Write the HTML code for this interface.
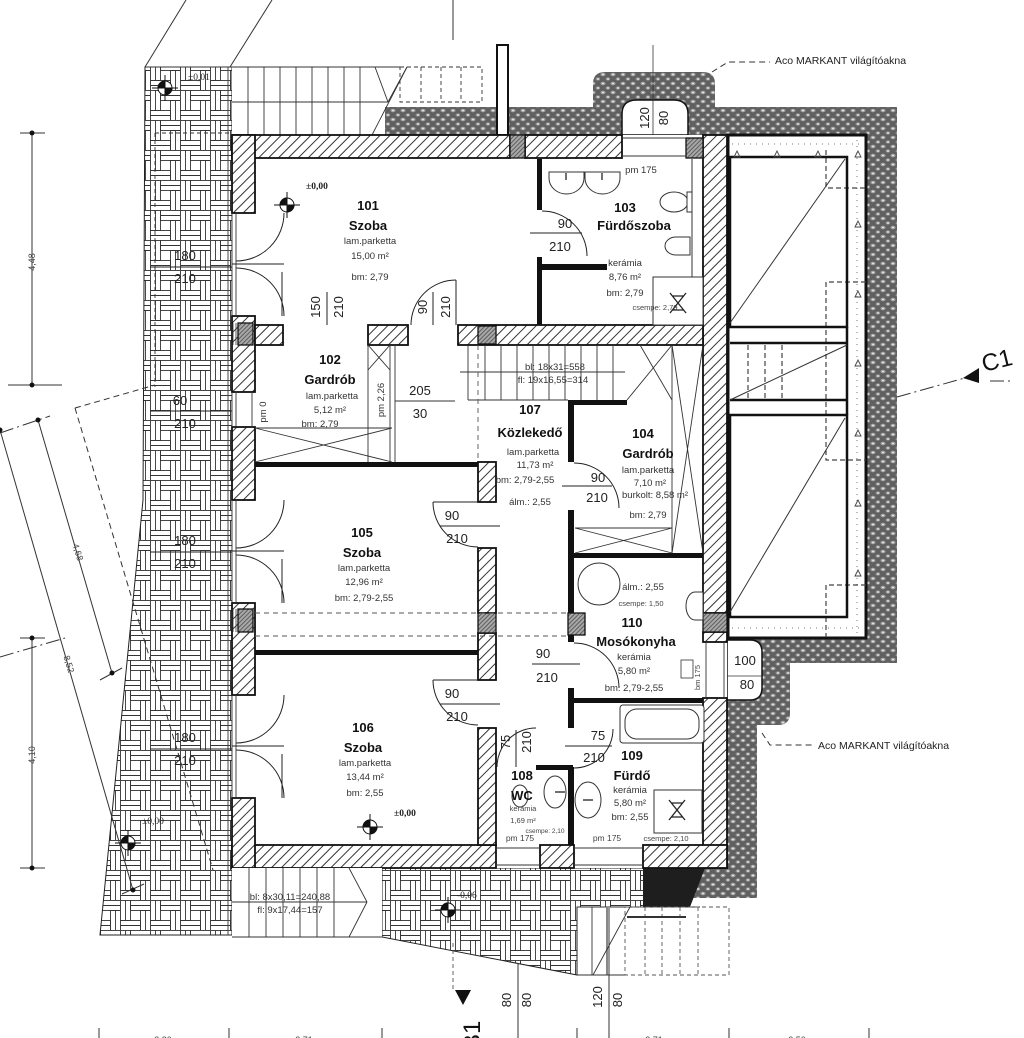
<!DOCTYPE html>
<html><head><meta charset="utf-8">
<style>
html,body{margin:0;padding:0;background:#fff;}
svg{display:block;}
text{font-family:"Liberation Sans",Arial,sans-serif;fill:#111;}
.b{font-weight:bold;font-size:13px;}
.s{font-size:9.5px;fill:#333;}
.xs{font-size:7.5px;fill:#444;}
.d{font-size:13px;fill:#222;}
.sr{font-family:"Liberation Serif",serif;font-size:9.5px;fill:#222;}
</style></head><body>
<svg width="1024" height="1038" viewBox="0 0 1024 1038" xmlns="http://www.w3.org/2000/svg">
<defs>
<pattern id="h" width="7" height="7" patternUnits="userSpaceOnUse" patternTransform="rotate(45)">
 <rect width="7" height="7" fill="#fff"/>
 <line x1="0.5" y1="0" x2="0.5" y2="7" stroke="#333" stroke-width="1"/>
</pattern>
<pattern id="g" width="3" height="3" patternUnits="userSpaceOnUse" patternTransform="rotate(45)">
 <rect width="3" height="3" fill="#a8a8a8"/>
 <line x1="0.5" y1="0" x2="0.5" y2="3" stroke="#555" stroke-width="0.9"/>
</pattern>
<pattern id="gr" width="10" height="9" patternUnits="userSpaceOnUse">
 <rect width="10" height="9" fill="#606060"/>
 <ellipse cx="3" cy="2.5" rx="2.6" ry="1.7" fill="#a0a0a0"/>
 <ellipse cx="8" cy="7" rx="2.4" ry="1.6" fill="#959595"/>
 <circle cx="3" cy="2.5" r="0.9" fill="#f2f2f2"/>
 <circle cx="8" cy="7" r="0.9" fill="#f2f2f2"/>
</pattern>
<pattern id="pv" width="30" height="30" patternUnits="userSpaceOnUse">
 <rect width="30" height="30" fill="#fff"/>
 <g stroke="#333" stroke-width="0.9" fill="none">
  <rect x="0.5" y="0.5" width="10" height="20"/><line x1="5.5" y1="0.5" x2="5.5" y2="20.5"/>
  <rect x="10.5" y="0.5" width="20" height="10"/><line x1="10.5" y1="5.5" x2="30.5" y2="5.5"/>
  <rect x="20.5" y="10.5" width="10" height="20"/><line x1="25.5" y1="10.5" x2="25.5" y2="30.5"/>
  <rect x="0.5" y="20.5" width="20" height="10"/><line x1="0.5" y1="25.5" x2="20.5" y2="25.5"/>
 </g>
</pattern>
</defs>

<rect width="1024" height="1038" fill="#fff"/>

<!-- roof lines top-left -->
<g stroke="#333" stroke-width="1" fill="none">
 <line x1="145" y1="67" x2="186" y2="0"/>
 <line x1="230" y1="67" x2="272" y2="0"/>
 <line x1="453" y1="0" x2="453" y2="40"/>
</g>

<!-- paving left -->
<path d="M145,67 L232,67 L232,935 L100,935 L143,500 Z" fill="url(#pv)" stroke="#222" stroke-width="1"/>
<line x1="228" y1="67" x2="228" y2="935" stroke="#444" stroke-width="1"/>
<!-- paving bottom -->
<path d="M382,868 L645,868 L645,907 L577,907 L577,975 L382,937 Z" fill="url(#pv)" stroke="#222" stroke-width="1"/>

<!-- gravel -->
<path d="M370,135 L385,107 L593,107 L593,84 Q593,72 605,72 L703,72 Q715,72 715,84 L715,107 L897,107 L897,663 L790,663 L790,713 Q790,725 778,725 L757,725 L757,898 L697,898 L645,898 L645,868 L727,868 L727,135 Z" fill="url(#gr)"/>
<path d="M643,868 L705,868 L690,907 L643,907 Z" fill="#1e1e1e"/>

<!-- top-left stairs -->
<rect x="232" y="67" width="153" height="68" fill="#fff"/>
<g stroke="#333" stroke-width="0.9" fill="none">
 <line x1="145" y1="67" x2="400" y2="67"/>
 <line x1="232" y1="102" x2="388" y2="102"/>
 <line x1="248" y1="67" x2="248" y2="135"/><line x1="264" y1="67" x2="264" y2="135"/>
 <line x1="280" y1="67" x2="280" y2="135"/><line x1="296" y1="67" x2="296" y2="135"/>
 <line x1="312" y1="67" x2="312" y2="135"/><line x1="328" y1="67" x2="328" y2="135"/>
 <line x1="344" y1="67" x2="344" y2="135"/><line x1="360" y1="67" x2="360" y2="135"/>
 <line x1="375" y1="67" x2="388" y2="102"/><line x1="388" y1="102" x2="407" y2="67"/>
 <line x1="372" y1="135" x2="407" y2="67"/>
 <g stroke-dasharray="4,3">
  <rect x="400" y="67" width="82" height="35"/>
  <line x1="421" y1="67" x2="421" y2="102"/><line x1="441" y1="67" x2="441" y2="102"/><line x1="461" y1="67" x2="461" y2="102"/>
  <line x1="155" y1="133" x2="232" y2="133"/><line x1="155" y1="133" x2="155" y2="387"/>
 </g>
</g>
<!-- pole -->
<rect x="497" y="45" width="11" height="90" fill="#fff" stroke="#111" stroke-width="2"/>

<!-- top window bump -->
<path d="M622,135 L622,114 Q622,100 637,100 L674,100 Q688,100 688,114 L688,135 Z" fill="#fff" stroke="#111" stroke-width="1.5"/>
<line x1="653" y1="45" x2="653" y2="172" stroke="#333" stroke-width="0.8"/>
<text class="d" transform="translate(649,118) rotate(-90)" text-anchor="middle">120</text>
<text class="d" transform="translate(668,118) rotate(-90)" text-anchor="middle">80</text>

<!-- lightwell -->
<rect x="728" y="135" width="138" height="503" fill="#fff" stroke="#111" stroke-width="3"/>
<g stroke="#777" stroke-width="1" stroke-dasharray="1,5" fill="none">
 <line x1="857" y1="140" x2="857" y2="635"/>
 <line x1="732" y1="144" x2="862" y2="144"/>
 <line x1="732" y1="628" x2="862" y2="628"/>
</g>
<g stroke="#444" stroke-width="1.2" stroke-dasharray="5,3" fill="none">
 <polyline points="826,150 826,188 866,188"/>
 <polyline points="866,282 826,282 826,460 866,460"/>
 <polyline points="866,585 826,585 826,637"/>
 <line x1="748" y1="345" x2="748" y2="400"/><line x1="765" y1="345" x2="765" y2="400"/><line x1="782" y1="345" x2="782" y2="400"/>
</g>
<g stroke="#111" stroke-width="2.5" fill="none">
 <rect x="730" y="157" width="117" height="170"/>
 <line x1="730" y1="343" x2="847" y2="343"/>
 <line x1="730" y1="400" x2="847" y2="400"/>
 <rect x="730" y="415" width="117" height="202"/>
 <line x1="847" y1="327" x2="847" y2="415"/>
</g>
<g stroke="#333" stroke-width="1" fill="none">
 <line x1="730" y1="323" x2="845" y2="159"/>
 <line x1="730" y1="400" x2="847" y2="345"/>
 <line x1="730" y1="612" x2="845" y2="418"/>
</g>
<g fill="none" stroke="#444" stroke-width="0.9">
 <path d="M734,157 l3,-6 l3,6 z"/><path d="M774,157 l3,-6 l3,6 z"/><path d="M815,157 l3,-6 l3,6 z"/>
 <path d="M855,157 l3,-6 l3,6 z"/><path d="M855,227 l3,-6 l3,6 z"/><path d="M855,297 l3,-6 l3,6 z"/>
 <path d="M855,366 l3,-6 l3,6 z"/><path d="M855,436 l3,-6 l3,6 z"/><path d="M855,506 l3,-6 l3,6 z"/>
 <path d="M855,576 l3,-6 l3,6 z"/>
</g>

<!-- 100/80 box -->
<path d="M727,640 L750,640 Q762,640 762,652 L762,688 Q762,700 750,700 L727,700 Z" fill="#fff" stroke="#111" stroke-width="1.5"/>
<line x1="727" y1="676" x2="762" y2="676" stroke="#333" stroke-width="0.8"/>
<text class="d" x="745" y="665" text-anchor="middle">100</text>
<text class="d" x="747" y="689" text-anchor="middle">80</text>

<!-- building interior -->
<rect x="232" y="135" width="495" height="733" fill="#fff"/>

<!-- outer walls -->
<g fill="url(#h)" stroke="#111" stroke-width="1.8">
 <rect x="232" y="135" width="278" height="23"/>
 <rect x="525" y="135" width="97" height="23"/>
 <rect x="703" y="135" width="24" height="478"/>
 <rect x="703" y="632" width="24" height="10"/>
 <rect x="703" y="698" width="24" height="170"/>
 <rect x="232" y="845" width="264" height="23"/>
 <rect x="540" y="845" width="34" height="23"/>
 <rect x="643" y="845" width="84" height="23"/>
 <rect x="232" y="135" width="23" height="78"/>
 <rect x="232" y="316" width="23" height="76"/>
 <rect x="232" y="427" width="23" height="73"/>
 <rect x="232" y="603" width="23" height="92"/>
 <rect x="232" y="798" width="23" height="70"/>
 <rect x="255" y="325" width="28" height="20"/>
 <rect x="368" y="325" width="40" height="20"/>
 <rect x="458" y="325" width="245" height="20"/>
 <rect x="478" y="462" width="18" height="40"/>
 <rect x="478" y="548" width="18" height="65"/>
 <rect x="478" y="633" width="18" height="47"/>
 <rect x="478" y="728" width="18" height="117"/>
</g>
<!-- gray columns -->
<g fill="url(#g)" stroke="#111" stroke-width="1.3">
 <rect x="510" y="135" width="15" height="23"/>
 <rect x="686" y="138" width="17" height="20"/>
 <rect x="703" y="613" width="24" height="19"/>
 <rect x="238" y="323" width="15" height="22"/>
 <rect x="238" y="609" width="15" height="23"/>
 <rect x="478" y="326" width="18" height="18"/>
 <rect x="478" y="613" width="18" height="20"/>
 <rect x="568" y="613" width="17" height="22"/>
</g>
<g stroke="#333" stroke-width="0.8" fill="none">
 <line x1="233" y1="323" x2="233" y2="345"/><line x1="236" y1="323" x2="236" y2="345"/>
 <line x1="233" y1="609" x2="233" y2="632"/><line x1="236" y1="609" x2="236" y2="632"/>
</g>

<!-- window / opening frames -->
<g stroke="#333" stroke-width="0.9" fill="none">
 <line x1="622" y1="138" x2="686" y2="138"/><line x1="622" y1="156" x2="686" y2="156"/>
 <line x1="232" y1="213" x2="232" y2="316"/><line x1="236" y1="213" x2="236" y2="316"/>
 <line x1="232" y1="392" x2="232" y2="427"/><line x1="236" y1="392" x2="236" y2="427"/><line x1="252" y1="392" x2="252" y2="427"/>
 <line x1="232" y1="500" x2="232" y2="603"/><line x1="236" y1="500" x2="236" y2="603"/>
 <line x1="232" y1="695" x2="232" y2="798"/><line x1="236" y1="695" x2="236" y2="798"/>
 <line x1="496" y1="848" x2="540" y2="848"/><line x1="496" y1="865" x2="540" y2="865"/>
 <line x1="574" y1="848" x2="643" y2="848"/><line x1="574" y1="865" x2="643" y2="865"/>
 <line x1="706" y1="642" x2="706" y2="698"/><line x1="724" y1="642" x2="724" y2="698"/>
</g>

<!-- black partition walls -->
<g fill="#111">
 <rect x="537" y="159" width="5" height="51"/>
 <rect x="537" y="257" width="5" height="68"/>
 <rect x="540" y="264" width="67" height="6"/>
 <rect x="255" y="462" width="223" height="5"/>
 <rect x="568" y="400" width="6" height="62"/>
 <rect x="568" y="400" width="59" height="5"/>
 <rect x="568" y="510" width="6" height="103"/>
 <rect x="572" y="553" width="131" height="5"/>
 <rect x="568" y="635" width="6" height="7"/>
 <rect x="568" y="688" width="6" height="40"/>
 <rect x="572" y="698" width="131" height="5"/>
 <rect x="536" y="765" width="37" height="5"/>
 <rect x="568" y="767" width="6" height="78"/>
 <rect x="255" y="650" width="223" height="5"/>
</g>

<!-- double doors left -->
<g stroke="#222" stroke-width="1" fill="none">
 <path d="M284,213 A48,48 0 0 1 236,261"/><line x1="232" y1="264" x2="284" y2="264"/><path d="M236,268 A48,48 0 0 1 284,316"/><line x1="282" y1="272" x2="282" y2="316"/>
 <path d="M284,500 A48,48 0 0 1 236,548"/><line x1="232" y1="551" x2="284" y2="551"/><path d="M236,555 A48,48 0 0 1 284,603"/><line x1="282" y1="559" x2="282" y2="603"/>
 <path d="M284,695 A48,48 0 0 1 236,743"/><line x1="232" y1="746" x2="284" y2="746"/><path d="M236,750 A48,48 0 0 1 284,798"/><line x1="282" y1="754" x2="282" y2="798"/>
 <line x1="150" y1="267" x2="232" y2="267"/>
 <line x1="150" y1="411" x2="232" y2="411"/>
 <line x1="150" y1="552" x2="232" y2="552"/>
 <line x1="150" y1="749" x2="232" y2="749"/>
</g>

<!-- single doors -->
<g stroke="#222" stroke-width="1" fill="none">
 <line x1="456" y1="325" x2="456" y2="280"/><path d="M456,280 A45,45 0 0 0 411,325"/>
 <line x1="327" y1="292" x2="327" y2="325"/><line x1="433" y1="292" x2="433" y2="325"/>
 <path d="M542,211 A45,45 0 0 1 587,256"/><line x1="530" y1="233" x2="582" y2="233"/>
 <line x1="478" y1="502" x2="433" y2="502"/><path d="M433,502 A45,45 0 0 0 478,547"/><line x1="440" y1="526" x2="500" y2="526"/>
 <line x1="478" y1="680" x2="433" y2="680"/><path d="M433,680 A45,45 0 0 0 478,725"/><line x1="440" y1="704" x2="500" y2="704"/>
 <path d="M574,463 A45,45 0 0 1 619,508"/><line x1="562" y1="486" x2="612" y2="486"/>
 <path d="M574,643 A45,45 0 0 1 619,688"/><line x1="532" y1="664" x2="580" y2="664"/>
 <path d="M613,729 A39,39 0 0 1 574,768"/><line x1="565" y1="746" x2="612" y2="746"/>
 <path d="M497,767 A39,39 0 0 1 536,728"/><line x1="516" y1="730" x2="516" y2="767"/>
</g>

<!-- closets / stairs 107 -->
<g stroke="#333" stroke-width="0.9" fill="none">
 <line x1="255" y1="428" x2="392" y2="428"/>
 <line x1="255" y1="428" x2="392" y2="462"/><line x1="255" y1="462" x2="392" y2="428"/>
 <line x1="368" y1="345" x2="368" y2="462"/><line x1="390" y1="345" x2="390" y2="462"/><line x1="395" y1="345" x2="395" y2="462"/>
 <line x1="368" y1="345" x2="390" y2="370"/><line x1="390" y1="345" x2="368" y2="370"/>
 <line x1="395" y1="401" x2="455" y2="401"/>
 <line x1="468" y1="345" x2="468" y2="400"/><line x1="468" y1="400" x2="568" y2="400"/>
 <line x1="485" y1="345" x2="485" y2="400"/><line x1="501" y1="345" x2="501" y2="400"/>
 <line x1="517" y1="345" x2="517" y2="400"/><line x1="533" y1="345" x2="533" y2="400"/>
 <line x1="549" y1="345" x2="549" y2="400"/><line x1="565" y1="345" x2="565" y2="400"/>
 <line x1="581" y1="345" x2="581" y2="400"/><line x1="597" y1="345" x2="597" y2="400"/>
 <line x1="613" y1="345" x2="613" y2="400"/><line x1="460" y1="372" x2="625" y2="372"/>
 <line x1="627" y1="400" x2="672" y2="345"/><line x1="640" y1="345" x2="672" y2="400"/>
 <line x1="672" y1="345" x2="672" y2="553"/>
 <line x1="672" y1="345" x2="703" y2="553"/><line x1="703" y1="345" x2="672" y2="553"/>
 <line x1="575" y1="528" x2="672" y2="528"/>
 <line x1="575" y1="528" x2="672" y2="553"/><line x1="575" y1="553" x2="672" y2="528"/>
 <g stroke-dasharray="5,4" stroke="#555">
  <line x1="478" y1="345" x2="478" y2="462"/>
  <line x1="255" y1="613" x2="568" y2="613"/>
  <line x1="255" y1="636" x2="568" y2="636"/>
 </g>
</g>

<!-- fixtures -->
<g stroke="#333" stroke-width="1" fill="#fff">
 <path d="M549,172 L584,172 L584,178 A17.5,16 0 0 1 549,178 Z"/>
 <path d="M585,172 L620,172 L620,178 A17.5,16 0 0 1 585,178 Z"/>
 <ellipse cx="674" cy="202" rx="14" ry="10"/><rect x="687" y="192" width="5" height="20"/>
 <path d="M690,237 L676,237 A11,9 0 0 0 676,255 L690,255 Z"/>
 <line x1="692" y1="159" x2="692" y2="277" fill="none"/>
 <rect x="653" y="277" width="50" height="48"/>
 <circle cx="599" cy="584" r="21"/>
 <path d="M703,592 L695,592 A9,14 0 0 0 695,620 L703,620 Z"/>
 <rect x="620" y="705" width="84" height="38" rx="3"/>
 <rect x="625" y="709" width="74" height="30" rx="12"/>
 <rect x="654" y="790" width="48" height="43"/>
 <ellipse cx="555" cy="792" rx="11" ry="16"/>
 <ellipse cx="588" cy="800" rx="13" ry="18"/>
 <ellipse cx="520" cy="796" rx="8" ry="11"/>
</g>
<g stroke="#222" stroke-width="1.3" fill="none">
 <path d="M670,293 L686,313 M686,293 L670,313 M672,296 h12 M672,310 h12"/>
 <path d="M669,800 L685,820 M685,800 L669,820 M671,803 h12 M671,817 h12"/>
 <line x1="566" y1="173" x2="566" y2="180"/><line x1="602" y1="173" x2="602" y2="180"/>
 <line x1="555" y1="792" x2="565" y2="792"/><line x1="583" y1="800" x2="593" y2="800"/>
</g>
<rect x="681" y="660" width="12" height="18" fill="#fff" stroke="#333" stroke-width="0.8"/>
<text class="xs" transform="translate(700,690) rotate(-90)">bm 175</text>

<!-- level symbols -->
<g stroke="#111" stroke-width="1">
 <g transform="translate(165,88)"><circle r="7" fill="#fff"/><path d="M0,0 L-7,0 A7,7 0 0 1 0,-7 Z M0,0 L7,0 A7,7 0 0 1 0,7 Z" fill="#111"/><line x1="-13" y1="0" x2="13" y2="0"/><line x1="0" y1="-13" x2="0" y2="13"/></g>
 <g transform="translate(287,205)"><circle r="7" fill="#fff"/><path d="M0,0 L-7,0 A7,7 0 0 1 0,-7 Z M0,0 L7,0 A7,7 0 0 1 0,7 Z" fill="#111"/><line x1="-13" y1="0" x2="13" y2="0"/><line x1="0" y1="-13" x2="0" y2="13"/></g>
 <g transform="translate(370,827)"><circle r="7" fill="#fff"/><path d="M0,0 L-7,0 A7,7 0 0 1 0,-7 Z M0,0 L7,0 A7,7 0 0 1 0,7 Z" fill="#111"/><line x1="-13" y1="0" x2="13" y2="0"/><line x1="0" y1="-13" x2="0" y2="13"/></g>
 <g transform="translate(128,843)"><circle r="7" fill="#fff"/><path d="M0,0 L-7,0 A7,7 0 0 1 0,-7 Z M0,0 L7,0 A7,7 0 0 1 0,7 Z" fill="#111"/><line x1="-13" y1="0" x2="13" y2="0"/><line x1="0" y1="-13" x2="0" y2="13"/></g>
 <g transform="translate(448,910)"><circle r="7" fill="#fff"/><path d="M0,0 L-7,0 A7,7 0 0 1 0,-7 Z M0,0 L7,0 A7,7 0 0 1 0,7 Z" fill="#111"/><line x1="-13" y1="0" x2="13" y2="0"/><line x1="0" y1="-13" x2="0" y2="13"/></g>
</g>

<!-- bottom stairs -->
<rect x="232" y="868" width="150" height="69" fill="#fff"/>
<g stroke="#333" stroke-width="0.9" fill="none">
 <line x1="232" y1="937" x2="382" y2="937"/>
 <line x1="249" y1="868" x2="249" y2="937"/><line x1="266" y1="868" x2="266" y2="937"/>
 <line x1="283" y1="868" x2="283" y2="937"/><line x1="300" y1="868" x2="300" y2="937"/>
 <line x1="317" y1="868" x2="317" y2="937"/><line x1="334" y1="868" x2="334" y2="937"/>
 <line x1="349" y1="868" x2="367" y2="902"/><line x1="367" y1="902" x2="349" y2="937"/>
 <line x1="232" y1="902" x2="367" y2="902"/>
 <line x1="577" y1="907" x2="700" y2="907"/>
 <line x1="592" y1="907" x2="592" y2="975"/><line x1="607" y1="907" x2="607" y2="975" stroke="#888" stroke-width="2"/>
 <line x1="593" y1="975" x2="630" y2="907"/>
 <line x1="577" y1="975" x2="625" y2="975"/>
 <g stroke-dasharray="4,3" stroke="#555">
  <rect x="625" y="907" width="104" height="68"/>
  <line x1="645" y1="907" x2="645" y2="975"/><line x1="662" y1="907" x2="662" y2="975"/>
  <line x1="680" y1="907" x2="680" y2="975"/><line x1="698" y1="907" x2="698" y2="975"/>
  <line x1="453" y1="943" x2="453" y2="990"/>
 </g>
 <line x1="627" y1="917" x2="686" y2="917" stroke-width="2"/>
</g>

<!-- dimension / section lines -->
<g stroke="#333" stroke-width="1" fill="none">
 <line x1="32" y1="133" x2="32" y2="387"/><line x1="20" y1="133" x2="45" y2="133"/><line x1="8" y1="385" x2="62" y2="385"/>
 <line x1="32" y1="638" x2="32" y2="868"/><line x1="20" y1="638" x2="45" y2="638"/><line x1="20" y1="868" x2="45" y2="868"/>
 <line x1="38" y1="420" x2="112" y2="673"/>
 <line x1="0" y1="430" x2="133" y2="890"/>
 <line x1="100" y1="680" x2="122" y2="668"/><line x1="122" y1="894" x2="144" y2="884"/>
 <line x1="518" y1="963" x2="518" y2="1038"/><line x1="609" y1="908" x2="609" y2="1038"/>
 <line x1="99" y1="1028" x2="99" y2="1038"/><line x1="229" y1="1028" x2="229" y2="1038"/>
 <line x1="382" y1="1028" x2="382" y2="1038"/><line x1="577" y1="1028" x2="577" y2="1038"/>
 <line x1="729" y1="1028" x2="729" y2="1038"/><line x1="869" y1="1028" x2="869" y2="1038"/>
 <g stroke-dasharray="6,4">
  <line x1="75" y1="408" x2="155" y2="385"/>
  <line x1="75" y1="408" x2="213" y2="870"/>
  <polyline points="712,72 728,62 770,62"/>
  <polyline points="762,733 770,745 815,745"/>
 </g>
 <g stroke-dasharray="14,4,2,4">
  <line x1="0" y1="657" x2="65" y2="638"/>
  <line x1="0" y1="433" x2="50" y2="416"/>
  <line x1="897" y1="397" x2="972" y2="376"/>
  <line x1="990" y1="381" x2="1010" y2="381"/>
 </g>
</g>
<g fill="#111">
 <circle cx="32" cy="133" r="2.5"/><circle cx="32" cy="385" r="2.5"/>
 <circle cx="32" cy="638" r="2.5"/><circle cx="32" cy="868" r="2.5"/>
 <circle cx="38" cy="420" r="2.5"/><circle cx="112" cy="673" r="2.5"/>
 <circle cx="0" cy="430" r="2.5"/><circle cx="133" cy="890" r="2.5"/>
 <path d="M455,990 L471,990 L463,1005 Z"/>
 <path d="M963,378 L979,368 L979,383 Z"/>
</g>

<!-- dimension texts outside -->
<text class="xs" transform="translate(35,262) rotate(-90)" text-anchor="middle" style="font-size:9px">4,48</text>
<text class="xs" transform="translate(35,755) rotate(-90)" text-anchor="middle" style="font-size:9px">4,10</text>
<text class="xs" transform="translate(75,553) rotate(73)" text-anchor="middle" style="font-size:9px">4,68</text>
<text class="xs" transform="translate(66,665) rotate(73)" text-anchor="middle" style="font-size:9px">8,52</text>
<text class="xs" x="163" y="1043" text-anchor="middle" style="font-size:9px">3,30</text>
<text class="xs" x="304" y="1043" text-anchor="middle" style="font-size:9px">3,71</text>
<text class="xs" x="654" y="1043" text-anchor="middle" style="font-size:9px">3,71</text>
<text class="xs" x="797" y="1043" text-anchor="middle" style="font-size:9px">3,50</text>
<text transform="translate(480,1050) rotate(-90)" style="font-size:24px;fill:#111">B1</text>
<text transform="translate(984,372) rotate(-14)" style="font-size:24px;fill:#111">C1</text>
<text class="d" transform="translate(511,1000) rotate(-90)" text-anchor="middle">80</text>
<text class="d" transform="translate(531,1000) rotate(-90)" text-anchor="middle">80</text>
<text class="d" transform="translate(602,997) rotate(-90)" text-anchor="middle">120</text>
<text class="d" transform="translate(622,1000) rotate(-90)" text-anchor="middle">80</text>
<text x="775" y="64" style="font-size:10.5px;fill:#222">Aco MARKANT világítóakna</text>
<text x="818" y="749" style="font-size:10.5px;fill:#222">Aco MARKANT világítóakna</text>

<!-- left door labels -->
<text class="d" x="185" y="260" text-anchor="middle">180</text>
<text class="d" x="185" y="283" text-anchor="middle">210</text>
<text class="d" x="180" y="405" text-anchor="middle">60</text>
<text class="d" x="185" y="428" text-anchor="middle">210</text>
<text class="d" x="185" y="545" text-anchor="middle">180</text>
<text class="d" x="185" y="568" text-anchor="middle">210</text>
<text class="d" x="185" y="742" text-anchor="middle">180</text>
<text class="d" x="185" y="765" text-anchor="middle">210</text>

<text class="sr" x="188" y="80">±0,01</text>
<text class="sr" x="306" y="189" style="font-weight:bold">±0,00</text>
<text class="sr" x="394" y="816" style="font-weight:bold">±0,00</text>
<text class="sr" x="142" y="824">±0,00</text>
<text class="sr" x="457" y="898">-0,06</text>

<!-- 101 -->
<text class="b" x="368" y="210" text-anchor="middle">101</text>
<text class="b" x="368" y="230" text-anchor="middle">Szoba</text>
<text class="s" x="370" y="244" text-anchor="middle">lam.parketta</text>
<text class="s" x="370" y="259" text-anchor="middle">15,00 m²</text>
<text class="s" x="370" y="280" text-anchor="middle">bm: 2,79</text>
<text class="d" transform="translate(320,307) rotate(-90)" text-anchor="middle">150</text>
<text class="d" transform="translate(343,307) rotate(-90)" text-anchor="middle">210</text>
<text class="d" transform="translate(427,307) rotate(-90)" text-anchor="middle">90</text>
<text class="d" transform="translate(450,307) rotate(-90)" text-anchor="middle">210</text>

<!-- 103 -->
<text class="s" x="641" y="173" text-anchor="middle">pm 175</text>
<text class="b" x="625" y="212" text-anchor="middle">103</text>
<text class="b" x="634" y="230" text-anchor="middle">Fürdőszoba</text>
<text class="d" x="565" y="228" text-anchor="middle">90</text>
<text class="d" x="560" y="251" text-anchor="middle">210</text>
<text class="s" x="625" y="266" text-anchor="middle">kerámia</text>
<text class="s" x="625" y="280" text-anchor="middle">8,76 m²</text>
<text class="s" x="625" y="296" text-anchor="middle">bm: 2,79</text>
<text class="xs" x="655" y="310" text-anchor="middle">csempe: 2,79</text>

<!-- 102 -->
<text class="b" x="330" y="364" text-anchor="middle">102</text>
<text class="b" x="330" y="384" text-anchor="middle">Gardrób</text>
<text class="s" x="332" y="399" text-anchor="middle">lam.parketta</text>
<text class="s" x="330" y="413" text-anchor="middle">5,12 m²</text>
<text class="s" x="320" y="427" text-anchor="middle">bm: 2,79</text>
<text class="s" transform="translate(266,412) rotate(-90)" text-anchor="middle">pm 0</text>
<text class="s" transform="translate(384,400) rotate(-90)" text-anchor="middle">pm 2,26</text>
<text class="d" x="420" y="395" text-anchor="middle">205</text>
<text class="d" x="420" y="418" text-anchor="middle">30</text>

<!-- 107 -->
<text class="s" x="555" y="370" text-anchor="middle">bl: 18x31=558</text>
<text class="s" x="553" y="383" text-anchor="middle">fl: 19x16,55=314</text>
<text class="b" x="530" y="414" text-anchor="middle">107</text>
<text class="b" x="530" y="437" text-anchor="middle">Közlekedő</text>
<text class="s" x="533" y="455" text-anchor="middle">lam.parketta</text>
<text class="s" x="535" y="468" text-anchor="middle">11,73 m²</text>
<text class="s" x="525" y="483" text-anchor="middle">bm: 2,79-2,55</text>
<text class="s" x="530" y="505" text-anchor="middle">álm.: 2,55</text>

<!-- 104 -->
<text class="b" x="643" y="438" text-anchor="middle">104</text>
<text class="b" x="648" y="458" text-anchor="middle">Gardrób</text>
<text class="s" x="648" y="473" text-anchor="middle">lam.parketta</text>
<text class="s" x="650" y="486" text-anchor="middle">7,10 m²</text>
<text class="s" x="655" y="498" text-anchor="middle">burkolt: 8,58 m²</text>
<text class="s" x="648" y="518" text-anchor="middle">bm: 2,79</text>
<text class="d" x="598" y="482" text-anchor="middle">90</text>
<text class="d" x="597" y="502" text-anchor="middle">210</text>

<!-- 105 -->
<text class="b" x="362" y="537" text-anchor="middle">105</text>
<text class="b" x="362" y="557" text-anchor="middle">Szoba</text>
<text class="s" x="364" y="571" text-anchor="middle">lam.parketta</text>
<text class="s" x="364" y="585" text-anchor="middle">12,96 m²</text>
<text class="s" x="364" y="601" text-anchor="middle">bm: 2,79-2,55</text>
<text class="d" x="452" y="520" text-anchor="middle">90</text>
<text class="d" x="457" y="543" text-anchor="middle">210</text>

<!-- 110 -->
<text class="s" x="643" y="590" text-anchor="middle">álm.: 2,55</text>
<text class="xs" x="641" y="606" text-anchor="middle">csempe: 1,50</text>
<text class="b" x="632" y="627" text-anchor="middle">110</text>
<text class="b" x="636" y="646" text-anchor="middle">Mosókonyha</text>
<text class="s" x="634" y="660" text-anchor="middle">kerámia</text>
<text class="s" x="634" y="674" text-anchor="middle">5,80 m²</text>
<text class="s" x="634" y="691" text-anchor="middle">bm: 2,79-2,55</text>
<text class="d" x="543" y="658" text-anchor="middle">90</text>
<text class="d" x="547" y="682" text-anchor="middle">210</text>

<!-- 106 -->
<text class="d" x="452" y="698" text-anchor="middle">90</text>
<text class="d" x="457" y="721" text-anchor="middle">210</text>
<text class="b" x="363" y="732" text-anchor="middle">106</text>
<text class="b" x="363" y="752" text-anchor="middle">Szoba</text>
<text class="s" x="365" y="766" text-anchor="middle">lam.parketta</text>
<text class="s" x="365" y="780" text-anchor="middle">13,44 m²</text>
<text class="s" x="365" y="796" text-anchor="middle">bm: 2,55</text>

<!-- 108 / 109 -->
<text class="d" transform="translate(510,742) rotate(-90)" text-anchor="middle">75</text>
<text class="d" transform="translate(531,742) rotate(-90)" text-anchor="middle">210</text>
<text class="d" x="598" y="740" text-anchor="middle">75</text>
<text class="d" x="594" y="762" text-anchor="middle">210</text>
<text class="b" x="632" y="760" text-anchor="middle">109</text>
<text class="b" x="632" y="780" text-anchor="middle">Fürdő</text>
<text class="s" x="630" y="793" text-anchor="middle">kerámia</text>
<text class="s" x="630" y="806" text-anchor="middle">5,80 m²</text>
<text class="s" x="630" y="820" text-anchor="middle">bm: 2,55</text>
<text class="xs" x="607" y="841" text-anchor="middle" style="font-size:8.5px">pm 175</text>
<text class="xs" x="666" y="841" text-anchor="middle">csempe: 2,10</text>
<text class="b" x="522" y="780" text-anchor="middle">108</text>
<text class="b" x="522" y="800" text-anchor="middle">WC</text>
<text class="xs" x="523" y="811" text-anchor="middle">kerámia</text>
<text class="xs" x="523" y="823" text-anchor="middle">1,69 m²</text>
<text class="xs" x="545" y="833" text-anchor="middle" style="font-size:6.5px">csempe: 2,10</text>
<text class="xs" x="520" y="841" text-anchor="middle" style="font-size:8.5px">pm 175</text>

<!-- bottom stair text -->
<text class="s" x="290" y="900" text-anchor="middle">bl: 8x30,11=240,88</text>
<text class="s" x="290" y="913" text-anchor="middle">fl: 9x17,44=157</text>
</svg>
</body></html>
